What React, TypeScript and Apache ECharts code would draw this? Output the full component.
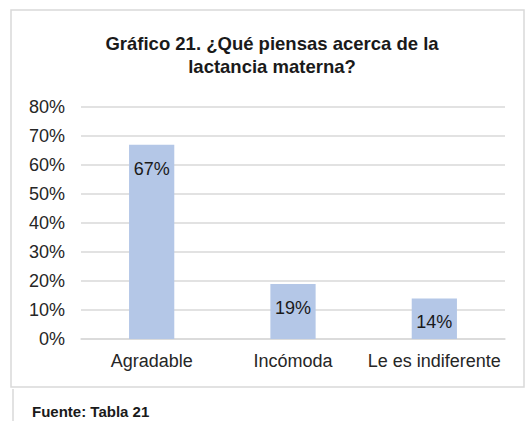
import React, { useEffect, useRef } from "react";
import * as echarts from "echarts";

const categories = ["Agradable", "Incómoda", "Le es indiferente"];
const values = [67, 19, 14];
const yTicks = [0, 10, 20, 30, 40, 50, 60, 70, 80];
const titleLines = ["Gráfico 21. ¿Qué piensas acerca de la", "lactancia materna?"];
const footer = "Fuente: Tabla 21";

export default function App() {
  const ref = useRef<HTMLDivElement>(null);
  useEffect(() => {
    if (!ref.current) return;
    const chart = echarts.init(ref.current, null, { renderer: "svg" });
    const font = "Liberation Sans, Arial, sans-serif";
    chart.setOption({
      animation: false,
      backgroundColor: "#ffffff",
      grid: { left: 81, right: 24, top: 107, bottom: 82 },
      xAxis: {
        type: "category",
        data: categories,
        axisLine: { show: true, lineStyle: { color: "#d9d9d9", width: 1.5 } },
        axisTick: { show: false },
        axisLabel: { fontFamily: font, fontSize: 18, color: "#262626", margin: 13, interval: 0, hideOverlap: false },
      },
      yAxis: {
        type: "value",
        min: yTicks[0],
        max: yTicks[yTicks.length - 1],
        interval: 10,
        axisLine: { show: false },
        axisTick: { show: false },
        splitLine: { lineStyle: { color: "#d9d9d9", width: 1.5 } },
        axisLabel: { fontFamily: font, fontSize: 18, color: "#262626", margin: 16, formatter: "{value}%" },
      },
      series: [
        {
          type: "bar",
          data: values,
          barWidth: "32%",
          itemStyle: { color: "#b4c7e7" },
          label: {
            show: true,
            position: "insideTop",
            distance: 15,
            formatter: "{c}%",
            fontFamily: font,
            fontSize: 18,
            color: "#1a1a1a",
          },
        },
      ],
      graphic: [
        {
          type: "rect",
          shape: { x: 11, y: 10, width: 513, height: 377 },
          style: { fill: "none", stroke: "#d9d9d9", lineWidth: 1.5 },
          silent: true,
        },
        {
          type: "line",
          shape: { x1: 13, y1: 389, x2: 13, y2: 421 },
          style: { stroke: "#d9d9d9", lineWidth: 1.5 },
          silent: true,
        },
        ...titleLines.map((t, i) => ({
          type: "text",
          x: 272,
          y: 43 + i * 23,
          style: {
            text: t,
            font: "bold 18.5px Liberation Sans, Arial, sans-serif",
            fill: "#1a1a1a",
            textAlign: "center",
            textVerticalAlign: "middle",
          },
        })),
        {
          type: "text",
          x: 32,
          y: 411,
          style: {
            text: footer,
            font: "bold 15px Liberation Sans, Arial, sans-serif",
            fill: "#1a1a1a",
            textVerticalAlign: "middle",
          },
        },
      ],
    });
    return () => chart.dispose();
  }, []);
  return (
    <div
      ref={ref}
      style={{ position: "absolute", left: 0, top: 0, width: 529, height: 421 }}
    />
  );
}
